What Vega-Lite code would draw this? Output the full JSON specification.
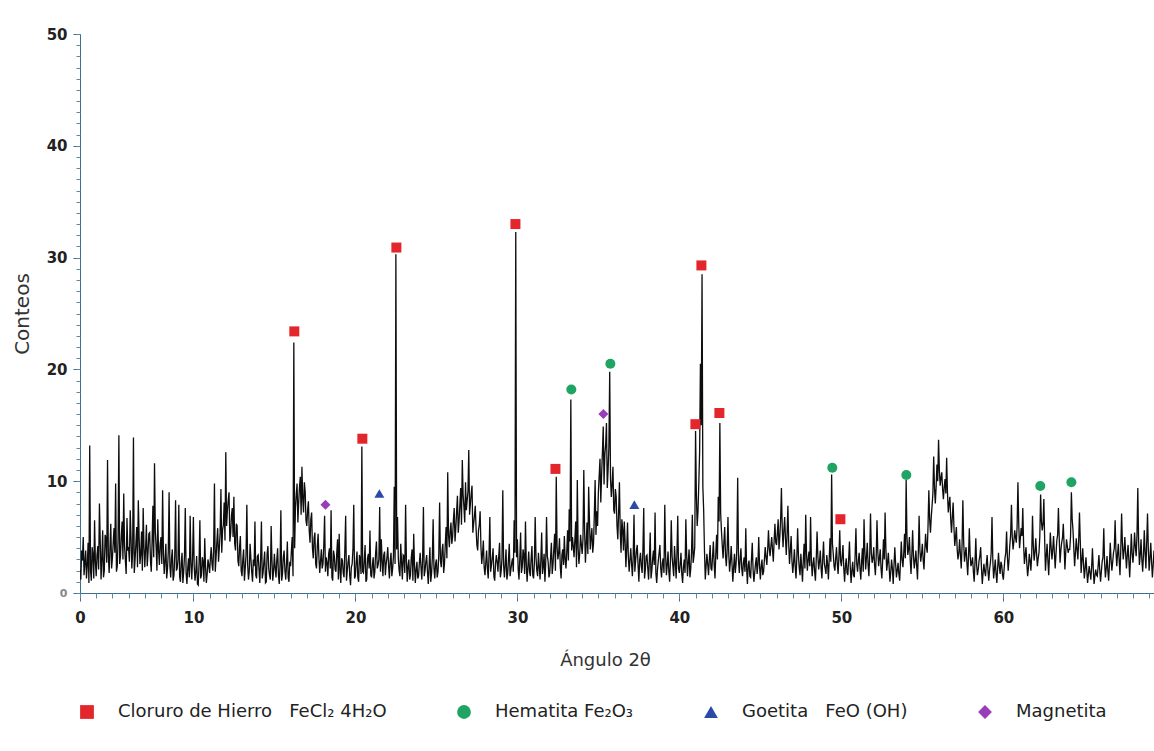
{
"$schema":"https://vega.github.io/schema/vega-lite/v6.json",
"width":1074,"height":559,
"autosize":"none",
"padding":{"left":80,"top":34,"right":0,"bottom":158},
"background":"white",
"config":{"view":{"stroke":null},"font":"DejaVu Sans"},
"datasets":{
"peaks":[
{"angle":16.23,"counts":23.4,"phase":"Cloruro de Hierro\u00a0\u00a0\u00a0FeCl₂ 4H₂O"},
{"angle":20.43,"counts":13.8,"phase":"Cloruro de Hierro\u00a0\u00a0\u00a0FeCl₂ 4H₂O"},
{"angle":22.53,"counts":30.9,"phase":"Cloruro de Hierro\u00a0\u00a0\u00a0FeCl₂ 4H₂O"},
{"angle":29.88,"counts":33.0,"phase":"Cloruro de Hierro\u00a0\u00a0\u00a0FeCl₂ 4H₂O"},
{"angle":32.35,"counts":11.1,"phase":"Cloruro de Hierro\u00a0\u00a0\u00a0FeCl₂ 4H₂O"},
{"angle":40.99,"counts":15.1,"phase":"Cloruro de Hierro\u00a0\u00a0\u00a0FeCl₂ 4H₂O"},
{"angle":41.36,"counts":29.3,"phase":"Cloruro de Hierro\u00a0\u00a0\u00a0FeCl₂ 4H₂O"},
{"angle":42.47,"counts":16.1,"phase":"Cloruro de Hierro\u00a0\u00a0\u00a0FeCl₂ 4H₂O"},
{"angle":49.94,"counts":6.6,"phase":"Cloruro de Hierro\u00a0\u00a0\u00a0FeCl₂ 4H₂O"},
{"angle":33.33,"counts":18.2,"phase":"Hematita Fe₂O₃"},
{"angle":35.74,"counts":20.5,"phase":"Hematita Fe₂O₃"},
{"angle":49.44,"counts":11.2,"phase":"Hematita Fe₂O₃"},
{"angle":54.01,"counts":10.55,"phase":"Hematita Fe₂O₃"},
{"angle":62.28,"counts":9.57,"phase":"Hematita Fe₂O₃"},
{"angle":64.2,"counts":9.9,"phase":"Hematita Fe₂O₃"},
{"angle":21.48,"counts":8.9,"phase":"Goetita\u00a0\u00a0\u00a0FeO (OH)"},
{"angle":37.22,"counts":7.9,"phase":"Goetita\u00a0\u00a0\u00a0FeO (OH)"},
{"angle":18.15,"counts":7.9,"phase":"Magnetita"},
{"angle":35.31,"counts":16.0,"phase":"Magnetita"}
],
"pattern":[
{"angle":3.0,"counts":2.1},{"angle":3.1,"counts":3.8},{"angle":3.2,"counts":5.0},{"angle":3.3,"counts":2.7},{"angle":3.4,"counts":1.3},{"angle":3.5,"counts":4.5},{"angle":3.6,"counts":13.2},{"angle":3.7,"counts":1.1},{"angle":3.8,"counts":3.4},{"angle":3.9,"counts":6.5},
{"angle":4.0,"counts":1.5},{"angle":4.1,"counts":4.2},{"angle":4.2,"counts":8.0},{"angle":4.3,"counts":1.2},{"angle":4.4,"counts":5.6},{"angle":4.5,"counts":2.0},{"angle":4.6,"counts":4.9},{"angle":4.7,"counts":11.9},{"angle":4.8,"counts":1.8},{"angle":4.9,"counts":6.2},
{"angle":5.0,"counts":3.1},{"angle":5.1,"counts":5.8},{"angle":5.2,"counts":9.8},{"angle":5.3,"counts":2.4},{"angle":5.4,"counts":14.1},{"angle":5.5,"counts":3.3},{"angle":5.6,"counts":6.4},{"angle":5.7,"counts":8.9},{"angle":5.8,"counts":2.9},{"angle":5.9,"counts":6.7},
{"angle":6.0,"counts":4.0},{"angle":6.1,"counts":7.4},{"angle":6.2,"counts":2.2},{"angle":6.3,"counts":13.9},{"angle":6.4,"counts":3.0},{"angle":6.5,"counts":5.9},{"angle":6.6,"counts":8.3},{"angle":6.7,"counts":2.6},{"angle":6.8,"counts":5.5},{"angle":6.9,"counts":7.6},
{"angle":7.0,"counts":2.3},{"angle":7.1,"counts":6.1},{"angle":7.2,"counts":3.6},{"angle":7.3,"counts":5.4},{"angle":7.4,"counts":1.9},{"angle":7.5,"counts":7.8},{"angle":7.6,"counts":11.6},{"angle":7.7,"counts":4.1},{"angle":7.8,"counts":6.6},{"angle":7.9,"counts":2.5},
{"angle":8.0,"counts":5.0},{"angle":8.1,"counts":9.2},{"angle":8.2,"counts":1.7},{"angle":8.3,"counts":4.4},{"angle":8.4,"counts":2.1},{"angle":8.5,"counts":9.0},{"angle":8.6,"counts":1.4},{"angle":8.7,"counts":3.9},{"angle":8.8,"counts":1.6},{"angle":8.9,"counts":8.3},
{"angle":9.0,"counts":2.2},{"angle":9.1,"counts":7.9},{"angle":9.2,"counts":1.0},{"angle":9.3,"counts":3.6},{"angle":9.4,"counts":1.9},{"angle":9.5,"counts":7.6},{"angle":9.6,"counts":0.8},{"angle":9.7,"counts":3.1},{"angle":9.8,"counts":6.9},{"angle":9.9,"counts":1.2},
{"angle":10.0,"counts":6.8},{"angle":10.1,"counts":1.1},{"angle":10.2,"counts":3.3},{"angle":10.3,"counts":0.7},{"angle":10.4,"counts":6.5},{"angle":10.5,"counts":1.6},{"angle":10.6,"counts":2.8},{"angle":10.7,"counts":4.9},{"angle":10.8,"counts":0.9},{"angle":10.9,"counts":3.0},
{"angle":11.0,"counts":1.8},{"angle":11.1,"counts":4.1},{"angle":11.2,"counts":2.0},{"angle":11.3,"counts":9.8},{"angle":11.4,"counts":3.2},{"angle":11.5,"counts":5.8},{"angle":11.6,"counts":4.0},{"angle":11.7,"counts":9.3},{"angle":11.8,"counts":5.6},{"angle":11.9,"counts":8.1},
{"angle":12.0,"counts":12.6},{"angle":12.1,"counts":7.4},{"angle":12.2,"counts":9.0},{"angle":12.3,"counts":5.3},{"angle":12.4,"counts":7.6},{"angle":12.5,"counts":8.6},{"angle":12.6,"counts":3.8},{"angle":12.7,"counts":6.0},{"angle":12.8,"counts":2.4},{"angle":12.9,"counts":5.1},
{"angle":13.0,"counts":1.5},{"angle":13.1,"counts":3.9},{"angle":13.2,"counts":2.2},{"angle":13.3,"counts":7.9},{"angle":13.4,"counts":1.2},{"angle":13.5,"counts":4.4},{"angle":13.6,"counts":1.9},{"angle":13.7,"counts":3.0},{"angle":13.8,"counts":6.4},{"angle":13.9,"counts":1.3},
{"angle":14.0,"counts":3.4},{"angle":14.1,"counts":0.9},{"angle":14.2,"counts":6.4},{"angle":14.3,"counts":1.8},{"angle":14.4,"counts":3.7},{"angle":14.5,"counts":1.0},{"angle":14.6,"counts":4.2},{"angle":14.7,"counts":1.6},{"angle":14.8,"counts":6.0},{"angle":14.9,"counts":1.1},
{"angle":15.0,"counts":3.5},{"angle":15.1,"counts":1.4},{"angle":15.2,"counts":4.0},{"angle":15.3,"counts":0.8},{"angle":15.4,"counts":7.4},{"angle":15.5,"counts":1.7},{"angle":15.6,"counts":3.8},{"angle":15.7,"counts":1.2},{"angle":15.8,"counts":4.6},{"angle":15.9,"counts":1.0},
{"angle":16.0,"counts":2.4},{"angle":16.1,"counts":5.0},{"angle":16.2,"counts":22.4},{"angle":16.3,"counts":7.6},{"angle":16.4,"counts":9.8},{"angle":16.5,"counts":8.1},{"angle":16.6,"counts":10.4},{"angle":16.7,"counts":11.3},{"angle":16.8,"counts":7.2},{"angle":16.9,"counts":9.1},
{"angle":17.0,"counts":6.0},{"angle":17.1,"counts":8.2},{"angle":17.2,"counts":4.5},{"angle":17.3,"counts":7.2},{"angle":17.4,"counts":3.1},{"angle":17.5,"counts":5.4},{"angle":17.6,"counts":2.2},{"angle":17.7,"counts":5.3},{"angle":17.8,"counts":1.8},{"angle":17.9,"counts":3.9},
{"angle":18.0,"counts":2.6},{"angle":18.1,"counts":6.9},{"angle":18.2,"counts":3.2},{"angle":18.3,"counts":1.5},{"angle":18.4,"counts":4.0},{"angle":18.5,"counts":7.4},{"angle":18.6,"counts":1.1},{"angle":18.7,"counts":3.3},{"angle":18.8,"counts":1.9},{"angle":18.9,"counts":4.8},
{"angle":19.0,"counts":5.3},{"angle":19.1,"counts":0.9},{"angle":19.2,"counts":2.9},{"angle":19.3,"counts":1.4},{"angle":19.4,"counts":6.9},{"angle":19.5,"counts":2.0},{"angle":19.6,"counts":3.4},{"angle":19.7,"counts":0.7},{"angle":19.8,"counts":2.6},{"angle":19.9,"counts":7.9},
{"angle":20.0,"counts":1.5},{"angle":20.1,"counts":3.7},{"angle":20.2,"counts":1.0},{"angle":20.3,"counts":3.0},{"angle":20.4,"counts":13.1},{"angle":20.5,"counts":1.8},{"angle":20.6,"counts":4.3},{"angle":20.7,"counts":1.2},{"angle":20.8,"counts":3.5},{"angle":20.9,"counts":5.6},
{"angle":21.0,"counts":1.4},{"angle":21.1,"counts":3.2},{"angle":21.2,"counts":1.9},{"angle":21.3,"counts":4.6},{"angle":21.4,"counts":2.5},{"angle":21.5,"counts":7.7},{"angle":21.6,"counts":4.8},{"angle":21.7,"counts":1.5},{"angle":21.8,"counts":3.7},{"angle":21.9,"counts":2.6},
{"angle":22.0,"counts":4.1},{"angle":22.1,"counts":1.3},{"angle":22.2,"counts":3.6},{"angle":22.3,"counts":2.2},{"angle":22.4,"counts":9.5},{"angle":22.5,"counts":30.3},{"angle":22.6,"counts":6.8},{"angle":22.7,"counts":2.0},{"angle":22.8,"counts":4.4},{"angle":22.9,"counts":1.2},
{"angle":23.0,"counts":3.3},{"angle":23.1,"counts":7.9},{"angle":23.2,"counts":1.0},{"angle":23.3,"counts":3.0},{"angle":23.4,"counts":1.6},{"angle":23.5,"counts":3.9},{"angle":23.6,"counts":5.3},{"angle":23.7,"counts":0.9},{"angle":23.8,"counts":2.8},{"angle":23.9,"counts":1.5},
{"angle":24.0,"counts":3.6},{"angle":24.1,"counts":1.2},{"angle":24.2,"counts":7.7},{"angle":24.3,"counts":2.0},{"angle":24.4,"counts":3.4},{"angle":24.5,"counts":0.8},{"angle":24.6,"counts":4.1},{"angle":24.7,"counts":1.7},{"angle":24.8,"counts":6.6},{"angle":24.9,"counts":1.3},
{"angle":25.0,"counts":3.0},{"angle":25.1,"counts":1.9},{"angle":25.2,"counts":8.1},{"angle":25.3,"counts":2.3},{"angle":25.4,"counts":4.4},{"angle":25.5,"counts":2.6},{"angle":25.6,"counts":5.9},{"angle":25.7,"counts":10.8},{"angle":25.8,"counts":4.1},{"angle":25.9,"counts":6.3},
{"angle":26.0,"counts":5.0},{"angle":26.1,"counts":7.6},{"angle":26.2,"counts":5.8},{"angle":26.3,"counts":8.7},{"angle":26.4,"counts":6.4},{"angle":26.5,"counts":9.4},{"angle":26.6,"counts":11.9},{"angle":26.7,"counts":7.7},{"angle":26.8,"counts":9.9},{"angle":26.9,"counts":8.3},
{"angle":27.0,"counts":12.8},{"angle":27.1,"counts":8.0},{"angle":27.2,"counts":9.6},{"angle":27.3,"counts":6.2},{"angle":27.4,"counts":7.8},{"angle":27.5,"counts":4.3},{"angle":27.6,"counts":5.6},{"angle":27.7,"counts":7.3},{"angle":27.8,"counts":2.6},{"angle":27.9,"counts":4.7},
{"angle":28.0,"counts":1.6},{"angle":28.1,"counts":3.8},{"angle":28.2,"counts":1.3},{"angle":28.3,"counts":6.8},{"angle":28.4,"counts":2.5},{"angle":28.5,"counts":4.0},{"angle":28.6,"counts":1.1},{"angle":28.7,"counts":3.4},{"angle":28.8,"counts":1.9},{"angle":28.9,"counts":4.5},
{"angle":29.0,"counts":2.0},{"angle":29.1,"counts":9.2},{"angle":29.2,"counts":1.4},{"angle":29.3,"counts":3.9},{"angle":29.4,"counts":1.7},{"angle":29.5,"counts":4.4},{"angle":29.6,"counts":2.1},{"angle":29.7,"counts":3.1},{"angle":29.8,"counts":6.5},{"angle":29.9,"counts":32.3},
{"angle":30.0,"counts":4.8},{"angle":30.1,"counts":1.2},{"angle":30.2,"counts":5.4},{"angle":30.3,"counts":2.3},{"angle":30.4,"counts":3.4},{"angle":30.5,"counts":6.4},{"angle":30.6,"counts":1.0},{"angle":30.7,"counts":3.7},{"angle":30.8,"counts":1.5},{"angle":30.9,"counts":4.2},
{"angle":31.0,"counts":1.3},{"angle":31.1,"counts":6.8},{"angle":31.2,"counts":2.0},{"angle":31.3,"counts":3.6},{"angle":31.4,"counts":1.2},{"angle":31.5,"counts":5.4},{"angle":31.6,"counts":2.4},{"angle":31.7,"counts":1.0},{"angle":31.8,"counts":6.8},{"angle":31.9,"counts":2.8},
{"angle":32.0,"counts":1.8},{"angle":32.1,"counts":4.5},{"angle":32.2,"counts":2.6},{"angle":32.3,"counts":5.3},{"angle":32.4,"counts":10.4},{"angle":32.5,"counts":3.0},{"angle":32.6,"counts":4.9},{"angle":32.7,"counts":1.3},{"angle":32.8,"counts":3.9},{"angle":32.9,"counts":5.1},
{"angle":33.0,"counts":2.2},{"angle":33.1,"counts":5.6},{"angle":33.2,"counts":7.5},{"angle":33.3,"counts":17.3},{"angle":33.4,"counts":5.0},{"angle":33.5,"counts":3.2},{"angle":33.6,"counts":6.4},{"angle":33.7,"counts":10.1},{"angle":33.8,"counts":2.6},{"angle":33.9,"counts":5.2},
{"angle":34.0,"counts":3.5},{"angle":34.1,"counts":11.0},{"angle":34.2,"counts":2.7},{"angle":34.3,"counts":6.3},{"angle":34.4,"counts":9.5},{"angle":34.5,"counts":3.9},{"angle":34.6,"counts":5.8},{"angle":34.7,"counts":4.4},{"angle":34.8,"counts":10.1},{"angle":34.9,"counts":7.3},
{"angle":35.0,"counts":9.0},{"angle":35.1,"counts":12.0},{"angle":35.2,"counts":10.6},{"angle":35.3,"counts":14.9},{"angle":35.4,"counts":12.4},{"angle":35.5,"counts":15.2},{"angle":35.6,"counts":11.0},{"angle":35.7,"counts":19.8},{"angle":35.8,"counts":8.6},{"angle":35.9,"counts":11.3},
{"angle":36.0,"counts":7.1},{"angle":36.1,"counts":8.6},{"angle":36.2,"counts":4.8},{"angle":36.3,"counts":9.9},{"angle":36.4,"counts":3.6},{"angle":36.5,"counts":5.7},{"angle":36.6,"counts":6.4},{"angle":36.7,"counts":2.3},{"angle":36.8,"counts":6.3},{"angle":36.9,"counts":1.9},
{"angle":37.0,"counts":4.0},{"angle":37.1,"counts":1.5},{"angle":37.2,"counts":7.0},{"angle":37.3,"counts":2.9},{"angle":37.4,"counts":4.3},{"angle":37.5,"counts":1.0},{"angle":37.6,"counts":3.6},{"angle":37.7,"counts":1.8},{"angle":37.8,"counts":7.6},{"angle":37.9,"counts":2.1},
{"angle":38.0,"counts":3.4},{"angle":38.1,"counts":1.2},{"angle":38.2,"counts":5.4},{"angle":38.3,"counts":2.0},{"angle":38.4,"counts":3.8},{"angle":38.5,"counts":7.2},{"angle":38.6,"counts":0.9},{"angle":38.7,"counts":2.9},{"angle":38.8,"counts":4.3},{"angle":38.9,"counts":1.4},
{"angle":39.0,"counts":3.1},{"angle":39.1,"counts":7.9},{"angle":39.2,"counts":1.6},{"angle":39.3,"counts":3.7},{"angle":39.4,"counts":1.0},{"angle":39.5,"counts":6.5},{"angle":39.6,"counts":2.4},{"angle":39.7,"counts":4.2},{"angle":39.8,"counts":1.3},{"angle":39.9,"counts":6.9},
{"angle":40.0,"counts":1.8},{"angle":40.1,"counts":3.6},{"angle":40.2,"counts":0.9},{"angle":40.3,"counts":3.0},{"angle":40.4,"counts":6.6},{"angle":40.5,"counts":1.5},{"angle":40.6,"counts":3.9},{"angle":40.7,"counts":2.1},{"angle":40.8,"counts":7.0},{"angle":40.9,"counts":3.3},
{"angle":41.0,"counts":14.5},{"angle":41.1,"counts":6.0},{"angle":41.2,"counts":9.8},{"angle":41.3,"counts":20.5},{"angle":41.4,"counts":28.5},{"angle":41.5,"counts":7.4},{"angle":41.6,"counts":1.2},{"angle":41.7,"counts":3.5},{"angle":41.8,"counts":1.6},{"angle":41.9,"counts":4.3},
{"angle":42.0,"counts":2.0},{"angle":42.1,"counts":4.6},{"angle":42.2,"counts":1.3},{"angle":42.3,"counts":5.2},{"angle":42.4,"counts":8.6},{"angle":42.5,"counts":15.2},{"angle":42.6,"counts":5.5},{"angle":42.7,"counts":3.1},{"angle":42.8,"counts":5.9},{"angle":42.9,"counts":2.4},
{"angle":43.0,"counts":6.8},{"angle":43.1,"counts":1.9},{"angle":43.2,"counts":4.2},{"angle":43.3,"counts":1.0},{"angle":43.4,"counts":3.5},{"angle":43.5,"counts":2.6},{"angle":43.6,"counts":10.3},{"angle":43.7,"counts":1.8},{"angle":43.8,"counts":4.0},{"angle":43.9,"counts":1.5},
{"angle":44.0,"counts":3.2},{"angle":44.1,"counts":5.8},{"angle":44.2,"counts":0.8},{"angle":44.3,"counts":2.9},{"angle":44.4,"counts":1.4},{"angle":44.5,"counts":4.5},{"angle":44.6,"counts":1.0},{"angle":44.7,"counts":2.6},{"angle":44.8,"counts":1.7},{"angle":44.9,"counts":5.0},
{"angle":45.0,"counts":1.2},{"angle":45.1,"counts":3.0},{"angle":45.2,"counts":1.9},{"angle":45.3,"counts":4.1},{"angle":45.4,"counts":2.5},{"angle":45.5,"counts":5.6},{"angle":45.6,"counts":3.3},{"angle":45.7,"counts":5.0},{"angle":45.8,"counts":2.8},{"angle":45.9,"counts":6.2},
{"angle":46.0,"counts":4.3},{"angle":46.1,"counts":6.6},{"angle":46.2,"counts":5.0},{"angle":46.3,"counts":9.4},{"angle":46.4,"counts":4.1},{"angle":46.5,"counts":6.8},{"angle":46.6,"counts":3.4},{"angle":46.7,"counts":7.8},{"angle":46.8,"counts":2.6},{"angle":46.9,"counts":5.1},
{"angle":47.0,"counts":1.8},{"angle":47.1,"counts":3.9},{"angle":47.2,"counts":1.3},{"angle":47.3,"counts":5.8},{"angle":47.4,"counts":2.2},{"angle":47.5,"counts":3.5},{"angle":47.6,"counts":1.0},{"angle":47.7,"counts":4.4},{"angle":47.8,"counts":7.0},{"angle":47.9,"counts":2.0},
{"angle":48.0,"counts":3.7},{"angle":48.1,"counts":6.8},{"angle":48.2,"counts":1.5},{"angle":48.3,"counts":3.2},{"angle":48.4,"counts":1.1},{"angle":48.5,"counts":5.5},{"angle":48.6,"counts":2.1},{"angle":48.7,"counts":3.8},{"angle":48.8,"counts":1.3},{"angle":48.9,"counts":4.6},
{"angle":49.0,"counts":2.2},{"angle":49.1,"counts":3.4},{"angle":49.2,"counts":1.2},{"angle":49.3,"counts":4.9},{"angle":49.4,"counts":10.6},{"angle":49.5,"counts":3.5},{"angle":49.6,"counts":2.0},{"angle":49.7,"counts":4.1},{"angle":49.8,"counts":1.7},{"angle":49.9,"counts":5.6},
{"angle":50.0,"counts":2.4},{"angle":50.1,"counts":4.3},{"angle":50.2,"counts":1.0},{"angle":50.3,"counts":3.1},{"angle":50.4,"counts":1.6},{"angle":50.5,"counts":4.6},{"angle":50.6,"counts":0.9},{"angle":50.7,"counts":2.8},{"angle":50.8,"counts":1.4},{"angle":50.9,"counts":5.8},
{"angle":51.0,"counts":1.9},{"angle":51.1,"counts":3.6},{"angle":51.2,"counts":1.2},{"angle":51.3,"counts":4.0},{"angle":51.4,"counts":6.6},{"angle":51.5,"counts":2.1},{"angle":51.6,"counts":4.5},{"angle":51.7,"counts":1.5},{"angle":51.8,"counts":7.1},{"angle":51.9,"counts":2.7},
{"angle":52.0,"counts":4.1},{"angle":52.1,"counts":1.6},{"angle":52.2,"counts":6.5},{"angle":52.3,"counts":2.4},{"angle":52.4,"counts":3.9},{"angle":52.5,"counts":1.3},{"angle":52.6,"counts":4.8},{"angle":52.7,"counts":7.2},{"angle":52.8,"counts":2.0},{"angle":52.9,"counts":3.6},
{"angle":53.0,"counts":1.0},{"angle":53.1,"counts":3.0},{"angle":53.2,"counts":0.8},{"angle":53.3,"counts":4.1},{"angle":53.4,"counts":1.4},{"angle":53.5,"counts":2.7},{"angle":53.6,"counts":1.1},{"angle":53.7,"counts":4.6},{"angle":53.8,"counts":2.3},{"angle":53.9,"counts":5.3},
{"angle":54.0,"counts":10.1},{"angle":54.1,"counts":3.4},{"angle":54.2,"counts":5.0},{"angle":54.3,"counts":1.7},{"angle":54.4,"counts":5.6},{"angle":54.5,"counts":2.2},{"angle":54.6,"counts":3.8},{"angle":54.7,"counts":1.2},{"angle":54.8,"counts":6.9},{"angle":54.9,"counts":2.8},
{"angle":55.0,"counts":4.4},{"angle":55.1,"counts":2.1},{"angle":55.2,"counts":5.3},{"angle":55.3,"counts":3.6},{"angle":55.4,"counts":9.2},{"angle":55.5,"counts":5.4},{"angle":55.6,"counts":7.8},{"angle":55.7,"counts":12.2},{"angle":55.8,"counts":8.0},{"angle":55.9,"counts":11.5},
{"angle":56.0,"counts":13.7},{"angle":56.1,"counts":9.6},{"angle":56.2,"counts":10.8},{"angle":56.3,"counts":8.4},{"angle":56.4,"counts":10.2},{"angle":56.5,"counts":12.1},{"angle":56.6,"counts":7.2},{"angle":56.7,"counts":8.6},{"angle":56.8,"counts":5.4},{"angle":56.9,"counts":8.1},
{"angle":57.0,"counts":4.2},{"angle":57.1,"counts":5.9},{"angle":57.2,"counts":3.0},{"angle":57.3,"counts":4.8},{"angle":57.4,"counts":2.2},{"angle":57.5,"counts":8.3},{"angle":57.6,"counts":2.8},{"angle":57.7,"counts":4.1},{"angle":57.8,"counts":1.6},{"angle":57.9,"counts":5.8},
{"angle":58.0,"counts":2.4},{"angle":58.1,"counts":3.2},{"angle":58.2,"counts":1.0},{"angle":58.3,"counts":4.9},{"angle":58.4,"counts":1.6},{"angle":58.5,"counts":2.9},{"angle":58.6,"counts":4.1},{"angle":58.7,"counts":0.8},{"angle":58.8,"counts":2.6},{"angle":58.9,"counts":1.5},
{"angle":59.0,"counts":3.4},{"angle":59.1,"counts":1.1},{"angle":59.2,"counts":2.7},{"angle":59.3,"counts":6.8},{"angle":59.4,"counts":1.3},{"angle":59.5,"counts":3.0},{"angle":59.6,"counts":0.9},{"angle":59.7,"counts":3.6},{"angle":59.8,"counts":1.7},{"angle":59.9,"counts":2.5},
{"angle":60.0,"counts":1.2},{"angle":60.1,"counts":3.1},{"angle":60.2,"counts":5.5},{"angle":60.3,"counts":2.0},{"angle":60.4,"counts":4.3},{"angle":60.5,"counts":7.9},{"angle":60.6,"counts":3.9},{"angle":60.7,"counts":5.6},{"angle":60.8,"counts":4.5},{"angle":60.9,"counts":9.9},
{"angle":61.0,"counts":4.0},{"angle":61.1,"counts":5.8},{"angle":61.2,"counts":7.6},{"angle":61.3,"counts":2.6},{"angle":61.4,"counts":4.1},{"angle":61.5,"counts":1.5},{"angle":61.6,"counts":3.5},{"angle":61.7,"counts":2.0},{"angle":61.8,"counts":6.9},{"angle":61.9,"counts":2.9},
{"angle":62.0,"counts":4.9},{"angle":62.1,"counts":2.4},{"angle":62.2,"counts":3.6},{"angle":62.3,"counts":8.8},{"angle":62.4,"counts":5.6},{"angle":62.5,"counts":8.4},{"angle":62.6,"counts":2.0},{"angle":62.7,"counts":4.4},{"angle":62.8,"counts":1.6},{"angle":62.9,"counts":5.4},
{"angle":63.0,"counts":3.0},{"angle":63.1,"counts":5.1},{"angle":63.2,"counts":2.2},{"angle":63.3,"counts":4.7},{"angle":63.4,"counts":7.6},{"angle":63.5,"counts":2.7},{"angle":63.6,"counts":4.5},{"angle":63.7,"counts":6.2},{"angle":63.8,"counts":2.1},{"angle":63.9,"counts":4.8},
{"angle":64.0,"counts":3.6},{"angle":64.1,"counts":3.9},{"angle":64.2,"counts":9.0},{"angle":64.3,"counts":5.6},{"angle":64.4,"counts":2.4},{"angle":64.5,"counts":4.9},{"angle":64.6,"counts":3.0},{"angle":64.7,"counts":7.2},{"angle":64.8,"counts":1.8},{"angle":64.9,"counts":4.0},
{"angle":65.0,"counts":1.3},{"angle":65.1,"counts":3.2},{"angle":65.2,"counts":0.9},{"angle":65.3,"counts":2.4},{"angle":65.4,"counts":1.2},{"angle":65.5,"counts":4.0},{"angle":65.6,"counts":0.8},{"angle":65.7,"counts":2.1},{"angle":65.8,"counts":1.5},{"angle":65.9,"counts":3.4},
{"angle":66.0,"counts":1.0},{"angle":66.1,"counts":2.8},{"angle":66.2,"counts":5.8},{"angle":66.3,"counts":1.4},{"angle":66.4,"counts":3.3},{"angle":66.5,"counts":1.1},{"angle":66.6,"counts":4.5},{"angle":66.7,"counts":2.0},{"angle":66.8,"counts":3.6},{"angle":66.9,"counts":6.5},
{"angle":67.0,"counts":2.4},{"angle":67.1,"counts":4.4},{"angle":67.2,"counts":1.6},{"angle":67.3,"counts":7.1},{"angle":67.4,"counts":3.0},{"angle":67.5,"counts":5.0},{"angle":67.6,"counts":2.2},{"angle":67.7,"counts":4.3},{"angle":67.8,"counts":1.4},{"angle":67.9,"counts":5.3},
{"angle":68.0,"counts":2.7},{"angle":68.1,"counts":5.4},{"angle":68.2,"counts":3.3},{"angle":68.3,"counts":9.4},{"angle":68.4,"counts":2.5},{"angle":68.5,"counts":4.8},{"angle":68.6,"counts":1.9},{"angle":68.7,"counts":5.6},{"angle":68.8,"counts":2.2},{"angle":68.9,"counts":7.1},
{"angle":69.0,"counts":2.0},{"angle":69.1,"counts":4.5},{"angle":69.2,"counts":1.4},{"angle":69.3,"counts":3.8},
{"angle":3.05,"counts":1.2},{"angle":3.15,"counts":2.9},{"angle":3.25,"counts":1.6},{"angle":3.35,"counts":3.8},{"angle":3.45,"counts":2.5},{"angle":3.55,"counts":0.9},{"angle":3.65,"counts":2.0},{"angle":3.75,"counts":4.1},{"angle":3.85,"counts":1.3},{"angle":3.95,"counts":2.8},
{"angle":4.05,"counts":3.4},{"angle":4.15,"counts":2.1},{"angle":4.25,"counts":4.6},{"angle":4.35,"counts":3.0},{"angle":4.45,"counts":1.4},{"angle":4.55,"counts":5.2},{"angle":4.65,"counts":2.7},{"angle":4.75,"counts":3.3},{"angle":4.85,"counts":4.0},{"angle":4.95,"counts":2.2},
{"angle":5.05,"counts":4.5},{"angle":5.15,"counts":3.6},{"angle":5.25,"counts":1.9},{"angle":5.35,"counts":4.8},{"angle":5.45,"counts":2.6},{"angle":5.55,"counts":5.1},{"angle":5.65,"counts":3.0},{"angle":5.75,"counts":4.2},{"angle":5.85,"counts":1.7},{"angle":5.95,"counts":3.9},
{"angle":6.05,"counts":2.8},{"angle":6.15,"counts":4.9},{"angle":6.25,"counts":3.7},{"angle":6.35,"counts":1.8},{"angle":6.45,"counts":4.4},{"angle":6.55,"counts":2.3},{"angle":6.65,"counts":5.0},{"angle":6.75,"counts":3.5},{"angle":6.85,"counts":2.0},{"angle":6.95,"counts":4.1},
{"angle":7.05,"counts":4.0},{"angle":7.15,"counts":2.4},{"angle":7.25,"counts":5.3},{"angle":7.35,"counts":2.9},{"angle":7.45,"counts":4.6},{"angle":7.55,"counts":3.2},{"angle":7.65,"counts":5.5},{"angle":7.75,"counts":2.0},{"angle":7.85,"counts":3.8},{"angle":7.95,"counts":4.4},
{"angle":8.05,"counts":2.6},{"angle":8.15,"counts":3.5},{"angle":8.25,"counts":2.9},{"angle":8.35,"counts":1.3},{"angle":8.45,"counts":3.7},{"angle":8.55,"counts":2.4},{"angle":8.65,"counts":3.1},{"angle":8.75,"counts":1.1},{"angle":8.85,"counts":3.4},{"angle":8.95,"counts":2.0},
{"angle":9.05,"counts":3.0},{"angle":9.15,"counts":1.5},{"angle":9.25,"counts":2.7},{"angle":9.35,"counts":0.9},{"angle":9.45,"counts":3.3},{"angle":9.55,"counts":1.8},{"angle":9.65,"counts":2.2},{"angle":9.75,"counts":1.4},{"angle":9.85,"counts":2.6},{"angle":9.95,"counts":3.1},
{"angle":10.05,"counts":2.4},{"angle":10.15,"counts":1.9},{"angle":10.25,"counts":0.8},{"angle":10.35,"counts":2.7},{"angle":10.45,"counts":1.3},{"angle":10.55,"counts":3.2},{"angle":10.65,"counts":1.0},{"angle":10.75,"counts":2.3},{"angle":10.85,"counts":1.7},{"angle":10.95,"counts":2.5},
{"angle":11.05,"counts":3.1},{"angle":11.15,"counts":2.6},{"angle":11.25,"counts":4.0},{"angle":11.35,"counts":1.9},{"angle":11.45,"counts":4.6},{"angle":11.55,"counts":2.8},{"angle":11.65,"counts":5.4},{"angle":11.75,"counts":3.6},{"angle":11.85,"counts":6.1},{"angle":11.95,"counts":4.7},
{"angle":12.05,"counts":6.0},{"angle":12.15,"counts":8.3},{"angle":12.25,"counts":4.6},{"angle":12.35,"counts":6.9},{"angle":12.45,"counts":5.0},{"angle":12.55,"counts":4.4},{"angle":12.65,"counts":6.2},{"angle":12.75,"counts":2.9},{"angle":12.85,"counts":4.1},{"angle":12.95,"counts":2.0},
{"angle":13.05,"counts":3.0},{"angle":13.15,"counts":1.1},{"angle":13.25,"counts":3.4},{"angle":13.35,"counts":2.5},{"angle":13.45,"counts":2.0},{"angle":13.55,"counts":3.1},{"angle":13.65,"counts":1.0},{"angle":13.75,"counts":2.4},{"angle":13.85,"counts":1.6},{"angle":13.95,"counts":3.3},
{"angle":14.05,"counts":2.1},{"angle":14.15,"counts":3.0},{"angle":14.25,"counts":1.3},{"angle":14.35,"counts":2.8},{"angle":14.45,"counts":0.9},{"angle":14.55,"counts":3.5},{"angle":14.65,"counts":2.2},{"angle":14.75,"counts":1.2},{"angle":14.85,"counts":2.9},{"angle":14.95,"counts":2.0},
{"angle":15.05,"counts":2.2},{"angle":15.15,"counts":3.0},{"angle":15.25,"counts":1.6},{"angle":15.35,"counts":2.5},{"angle":15.45,"counts":1.1},{"angle":15.55,"counts":3.2},{"angle":15.65,"counts":2.0},{"angle":15.75,"counts":2.6},{"angle":15.85,"counts":1.4},{"angle":15.95,"counts":2.8},
{"angle":16.05,"counts":3.8},{"angle":16.15,"counts":1.5},{"angle":16.25,"counts":4.0},{"angle":16.35,"counts":8.8},{"angle":16.45,"counts":6.3},{"angle":16.55,"counts":9.5},{"angle":16.65,"counts":7.0},{"angle":16.75,"counts":8.4},{"angle":16.85,"counts":9.9},{"angle":16.95,"counts":6.5},
{"angle":17.05,"counts":7.4},{"angle":17.15,"counts":5.6},{"angle":17.25,"counts":6.6},{"angle":17.35,"counts":4.0},{"angle":17.45,"counts":4.9},{"angle":17.55,"counts":2.6},{"angle":17.65,"counts":4.2},{"angle":17.75,"counts":3.1},{"angle":17.85,"counts":2.9},{"angle":17.95,"counts":2.2},
{"angle":18.05,"counts":4.3},{"angle":18.15,"counts":1.9},{"angle":18.25,"counts":2.7},{"angle":18.35,"counts":3.5},{"angle":18.45,"counts":2.2},{"angle":18.55,"counts":1.4},{"angle":18.65,"counts":3.8},{"angle":18.75,"counts":2.1},{"angle":18.85,"counts":3.6},{"angle":18.95,"counts":1.2},
{"angle":19.05,"counts":2.0},{"angle":19.15,"counts":3.1},{"angle":19.25,"counts":1.8},{"angle":19.35,"counts":3.9},{"angle":19.45,"counts":1.1},{"angle":19.55,"counts":2.8},{"angle":19.65,"counts":1.6},{"angle":19.75,"counts":2.3},{"angle":19.85,"counts":3.9},{"angle":19.95,"counts":1.3},
{"angle":20.05,"counts":2.8},{"angle":20.15,"counts":1.4},{"angle":20.25,"counts":3.4},{"angle":20.35,"counts":1.7},{"angle":20.45,"counts":1.9},{"angle":20.55,"counts":2.9},{"angle":20.65,"counts":1.0},{"angle":20.75,"counts":3.1},{"angle":20.85,"counts":2.2},{"angle":20.95,"counts":1.6},
{"angle":21.05,"counts":2.5},{"angle":21.15,"counts":1.3},{"angle":21.25,"counts":3.6},{"angle":21.35,"counts":2.2},{"angle":21.45,"counts":3.0},{"angle":21.55,"counts":1.9},{"angle":21.65,"counts":2.9},{"angle":21.75,"counts":3.4},{"angle":21.85,"counts":1.6},{"angle":21.95,"counts":3.2},
{"angle":22.05,"counts":2.4},{"angle":22.15,"counts":2.9},{"angle":22.25,"counts":1.5},{"angle":22.35,"counts":3.3},{"angle":22.45,"counts":2.6},{"angle":22.55,"counts":3.9},{"angle":22.65,"counts":3.1},{"angle":22.75,"counts":1.5},{"angle":22.85,"counts":2.8},{"angle":22.95,"counts":3.4},
{"angle":23.05,"counts":1.8},{"angle":23.15,"counts":2.9},{"angle":23.25,"counts":2.4},{"angle":23.35,"counts":1.2},{"angle":23.45,"counts":3.2},{"angle":23.55,"counts":1.1},{"angle":23.65,"counts":2.5},{"angle":23.75,"counts":2.1},{"angle":23.85,"counts":1.3},{"angle":23.95,"counts":2.7},
{"angle":24.05,"counts":2.3},{"angle":24.15,"counts":3.0},{"angle":24.25,"counts":1.5},{"angle":24.35,"counts":2.8},{"angle":24.45,"counts":1.9},{"angle":24.55,"counts":2.4},{"angle":24.65,"counts":1.0},{"angle":24.75,"counts":3.1},{"angle":24.85,"counts":2.2},{"angle":24.95,"counts":2.6},
{"angle":25.05,"counts":1.4},{"angle":25.15,"counts":3.5},{"angle":25.25,"counts":2.9},{"angle":25.35,"counts":3.8},{"angle":25.45,"counts":1.8},{"angle":25.55,"counts":4.4},{"angle":25.65,"counts":3.1},{"angle":25.75,"counts":5.2},{"angle":25.85,"counts":5.5},{"angle":25.95,"counts":4.4},
{"angle":26.05,"counts":6.5},{"angle":26.15,"counts":4.6},{"angle":26.25,"counts":7.3},{"angle":26.35,"counts":5.4},{"angle":26.45,"counts":7.9},{"angle":26.55,"counts":6.1},{"angle":26.65,"counts":8.8},{"angle":26.75,"counts":6.3},{"angle":26.85,"counts":7.4},{"angle":26.95,"counts":9.1},
{"angle":27.05,"counts":7.0},{"angle":27.15,"counts":8.9},{"angle":27.25,"counts":5.4},{"angle":27.35,"counts":6.9},{"angle":27.45,"counts":5.8},{"angle":27.55,"counts":3.8},{"angle":27.65,"counts":6.1},{"angle":27.75,"counts":4.2},{"angle":27.85,"counts":3.5},{"angle":27.95,"counts":2.3},
{"angle":28.05,"counts":2.7},{"angle":28.15,"counts":2.2},{"angle":28.25,"counts":3.4},{"angle":28.35,"counts":1.9},{"angle":28.45,"counts":3.2},{"angle":28.55,"counts":1.5},{"angle":28.65,"counts":2.6},{"angle":28.75,"counts":2.8},{"angle":28.85,"counts":3.3},{"angle":28.95,"counts":1.4},
{"angle":29.05,"counts":3.1},{"angle":29.15,"counts":2.5},{"angle":29.25,"counts":2.6},{"angle":29.35,"counts":1.2},{"angle":29.45,"counts":3.0},{"angle":29.55,"counts":1.5},{"angle":29.65,"counts":2.7},{"angle":29.75,"counts":1.9},{"angle":29.85,"counts":3.6},{"angle":29.95,"counts":3.2},
{"angle":30.05,"counts":2.1},{"angle":30.15,"counts":3.1},{"angle":30.25,"counts":1.8},{"angle":30.35,"counts":3.9},{"angle":30.45,"counts":1.7},{"angle":30.55,"counts":2.6},{"angle":30.65,"counts":2.4},{"angle":30.75,"counts":1.9},{"angle":30.85,"counts":3.1},{"angle":30.95,"counts":1.6},
{"angle":31.05,"counts":2.7},{"angle":31.15,"counts":3.2},{"angle":31.25,"counts":1.5},{"angle":31.35,"counts":2.4},{"angle":31.45,"counts":3.0},{"angle":31.55,"counts":1.7},{"angle":31.65,"counts":3.5},{"angle":31.75,"counts":2.7},{"angle":31.85,"counts":3.3},{"angle":31.95,"counts":1.4},
{"angle":32.05,"counts":3.2},{"angle":32.15,"counts":1.7},{"angle":32.25,"counts":3.9},{"angle":32.35,"counts":2.0},{"angle":32.45,"counts":4.1},{"angle":32.55,"counts":3.6},{"angle":32.65,"counts":2.3},{"angle":32.75,"counts":3.4},{"angle":32.85,"counts":2.5},{"angle":32.95,"counts":3.0},
{"angle":33.05,"counts":3.7},{"angle":33.15,"counts":2.9},{"angle":33.25,"counts":4.6},{"angle":33.35,"counts":3.8},{"angle":33.45,"counts":4.2},{"angle":33.55,"counts":4.8},{"angle":33.65,"counts":2.3},{"angle":33.75,"counts":4.0},{"angle":33.85,"counts":3.6},{"angle":33.95,"counts":4.3},
{"angle":34.05,"counts":4.8},{"angle":34.15,"counts":5.6},{"angle":34.25,"counts":4.4},{"angle":34.35,"counts":3.5},{"angle":34.45,"counts":6.5},{"angle":34.55,"counts":4.9},{"angle":34.65,"counts":3.6},{"angle":34.75,"counts":7.0},{"angle":34.85,"counts":5.2},{"angle":34.95,"counts":6.0},
{"angle":35.05,"counts":10.5},{"angle":35.15,"counts":8.1},{"angle":35.25,"counts":12.6},{"angle":35.35,"counts":9.7},{"angle":35.45,"counts":13.3},{"angle":35.55,"counts":9.4},{"angle":35.65,"counts":13.1},{"angle":35.75,"counts":10.2},{"angle":35.85,"counts":9.8},{"angle":35.95,"counts":7.4},
{"angle":36.05,"counts":9.3},{"angle":36.15,"counts":6.0},{"angle":36.25,"counts":7.2},{"angle":36.35,"counts":5.5},{"angle":36.45,"counts":6.6},{"angle":36.55,"counts":3.8},{"angle":36.65,"counts":4.6},{"angle":36.75,"counts":4.0},{"angle":36.85,"counts":3.2},{"angle":36.95,"counts":3.0},
{"angle":37.05,"counts":2.6},{"angle":37.15,"counts":3.3},{"angle":37.25,"counts":1.9},{"angle":37.35,"counts":3.8},{"angle":37.45,"counts":2.5},{"angle":37.55,"counts":3.0},{"angle":37.65,"counts":2.4},{"angle":37.75,"counts":3.9},{"angle":37.85,"counts":1.3},{"angle":37.95,"counts":3.3},
{"angle":38.05,"counts":2.2},{"angle":38.15,"counts":3.0},{"angle":38.25,"counts":1.3},{"angle":38.35,"counts":3.1},{"angle":38.45,"counts":2.5},{"angle":38.55,"counts":1.8},{"angle":38.65,"counts":2.1},{"angle":38.75,"counts":3.6},{"angle":38.85,"counts":2.2},{"angle":38.95,"counts":2.7},
{"angle":39.05,"counts":1.8},{"angle":39.15,"counts":3.4},{"angle":39.25,"counts":2.5},{"angle":39.35,"counts":1.9},{"angle":39.45,"counts":2.9},{"angle":39.55,"counts":3.3},{"angle":39.65,"counts":1.5},{"angle":39.75,"counts":2.8},{"angle":39.85,"counts":3.5},{"angle":39.95,"counts":2.2},
{"angle":40.05,"counts":2.6},{"angle":40.15,"counts":1.7},{"angle":40.25,"counts":2.3},{"angle":40.35,"counts":1.8},{"angle":40.45,"counts":3.4},{"angle":40.55,"counts":2.8},{"angle":40.65,"counts":1.4},{"angle":40.75,"counts":3.6},{"angle":40.85,"counts":2.7},{"angle":40.95,"counts":4.1},
{"angle":41.05,"counts":8.8},{"angle":41.15,"counts":7.3},{"angle":41.25,"counts":12.6},{"angle":41.35,"counts":15.0},{"angle":41.45,"counts":9.5},{"angle":41.55,"counts":3.8},{"angle":41.65,"counts":2.4},{"angle":41.75,"counts":2.6},{"angle":41.85,"counts":3.0},{"angle":41.95,"counts":2.2},
{"angle":42.05,"counts":3.3},{"angle":42.15,"counts":2.5},{"angle":42.25,"counts":3.6},{"angle":42.35,"counts":3.0},{"angle":42.45,"counts":6.4},{"angle":42.55,"counts":7.1},{"angle":42.65,"counts":4.2},{"angle":42.75,"counts":4.6},{"angle":42.85,"counts":3.3},{"angle":42.95,"counts":3.9},
{"angle":43.05,"counts":3.5},{"angle":43.15,"counts":2.8},{"angle":43.25,"counts":2.6},{"angle":43.35,"counts":2.3},{"angle":43.45,"counts":1.8},{"angle":43.55,"counts":4.0},{"angle":43.65,"counts":2.9},{"angle":43.75,"counts":3.1},{"angle":43.85,"counts":2.2},{"angle":43.95,"counts":2.7},
{"angle":44.05,"counts":1.9},{"angle":44.15,"counts":2.3},{"angle":44.25,"counts":2.5},{"angle":44.35,"counts":1.5},{"angle":44.45,"counts":3.0},{"angle":44.55,"counts":2.1},{"angle":44.65,"counts":1.8},{"angle":44.75,"counts":3.2},{"angle":44.85,"counts":2.6},{"angle":44.95,"counts":2.4},
{"angle":45.05,"counts":2.4},{"angle":45.15,"counts":1.6},{"angle":45.25,"counts":3.0},{"angle":45.35,"counts":3.2},{"angle":45.45,"counts":3.8},{"angle":45.55,"counts":4.0},{"angle":45.65,"counts":4.2},{"angle":45.75,"counts":3.9},{"angle":45.85,"counts":4.7},{"angle":45.95,"counts":4.5},
{"angle":46.05,"counts":5.4},{"angle":46.15,"counts":3.9},{"angle":46.25,"counts":6.5},{"angle":46.35,"counts":5.8},{"angle":46.45,"counts":5.6},{"angle":46.55,"counts":4.9},{"angle":46.65,"counts":5.3},{"angle":46.75,"counts":4.4},{"angle":46.85,"counts":3.8},{"angle":46.95,"counts":2.9},
{"angle":47.05,"counts":2.7},{"angle":47.15,"counts":2.4},{"angle":47.25,"counts":3.1},{"angle":47.35,"counts":3.4},{"angle":47.45,"counts":1.6},{"angle":47.55,"counts":2.3},{"angle":47.65,"counts":2.9},{"angle":47.75,"counts":2.2},{"angle":47.85,"counts":3.5},{"angle":47.95,"counts":3.0},
{"angle":48.05,"counts":2.4},{"angle":48.15,"counts":2.9},{"angle":48.25,"counts":2.6},{"angle":48.35,"counts":1.9},{"angle":48.45,"counts":3.0},{"angle":48.55,"counts":3.3},{"angle":48.65,"counts":2.8},{"angle":48.75,"counts":2.2},{"angle":48.85,"counts":3.1},{"angle":48.95,"counts":2.6},
{"angle":49.05,"counts":1.7},{"angle":49.15,"counts":2.6},{"angle":49.25,"counts":3.0},{"angle":49.35,"counts":2.8},{"angle":49.45,"counts":4.4},{"angle":49.55,"counts":2.4},{"angle":49.65,"counts":3.1},{"angle":49.75,"counts":2.6},{"angle":49.85,"counts":3.3},{"angle":49.95,"counts":2.9},
{"angle":50.05,"counts":3.3},{"angle":50.15,"counts":2.2},{"angle":50.25,"counts":2.4},{"angle":50.35,"counts":1.8},{"angle":50.45,"counts":3.0},{"angle":50.55,"counts":2.3},{"angle":50.65,"counts":2.0},{"angle":50.75,"counts":1.6},{"angle":50.85,"counts":3.4},{"angle":50.95,"counts":2.6},
{"angle":51.05,"counts":2.9},{"angle":51.15,"counts":2.2},{"angle":51.25,"counts":2.8},{"angle":51.35,"counts":1.9},{"angle":51.45,"counts":3.8},{"angle":51.55,"counts":3.2},{"angle":51.65,"counts":2.5},{"angle":51.75,"counts":3.4},{"angle":51.85,"counts":3.6},{"angle":51.95,"counts":3.1},
{"angle":52.05,"counts":2.5},{"angle":52.15,"counts":3.2},{"angle":52.25,"counts":3.7},{"angle":52.35,"counts":3.1},{"angle":52.45,"counts":2.2},{"angle":52.55,"counts":2.9},{"angle":52.65,"counts":3.0},{"angle":52.75,"counts":3.9},{"angle":52.85,"counts":2.7},{"angle":52.95,"counts":2.3},
{"angle":53.05,"counts":1.9},{"angle":53.15,"counts":2.2},{"angle":53.25,"counts":2.5},{"angle":53.35,"counts":2.6},{"angle":53.45,"counts":2.0},{"angle":53.55,"counts":1.7},{"angle":53.65,"counts":2.8},{"angle":53.75,"counts":3.0},{"angle":53.85,"counts":3.5},{"angle":53.95,"counts":3.1},
{"angle":54.05,"counts":5.0},{"angle":54.15,"counts":3.9},{"angle":54.25,"counts":3.0},{"angle":54.35,"counts":3.4},{"angle":54.45,"counts":3.3},{"angle":54.55,"counts":2.9},{"angle":54.65,"counts":2.4},{"angle":54.75,"counts":3.6},{"angle":54.85,"counts":3.8},{"angle":54.95,"counts":3.5},
{"angle":55.05,"counts":3.0},{"angle":55.15,"counts":3.8},{"angle":55.25,"counts":4.1},{"angle":55.35,"counts":6.0},{"angle":55.45,"counts":6.6},{"angle":55.55,"counts":6.8},{"angle":55.65,"counts":8.9},{"angle":55.75,"counts":9.4},{"angle":55.85,"counts":9.5},{"angle":55.95,"counts":10.0},
{"angle":56.05,"counts":11.0},{"angle":56.15,"counts":10.3},{"angle":56.25,"counts":9.3},{"angle":56.35,"counts":9.5},{"angle":56.45,"counts":8.9},{"angle":56.55,"counts":9.0},{"angle":56.65,"counts":8.0},{"angle":56.75,"counts":6.6},{"angle":56.85,"counts":6.8},{"angle":56.95,"counts":5.9},
{"angle":57.05,"counts":5.0},{"angle":57.15,"counts":3.9},{"angle":57.25,"counts":3.6},{"angle":57.35,"counts":3.4},{"angle":57.45,"counts":4.2},{"angle":57.55,"counts":4.6},{"angle":57.65,"counts":3.5},{"angle":57.75,"counts":2.7},{"angle":57.85,"counts":3.3},{"angle":57.95,"counts":3.4},
{"angle":58.05,"counts":2.7},{"angle":58.15,"counts":1.9},{"angle":58.25,"counts":2.8},{"angle":58.35,"counts":2.5},{"angle":58.45,"counts":2.1},{"angle":58.55,"counts":3.3},{"angle":58.65,"counts":2.2},{"angle":58.75,"counts":1.8},{"angle":58.85,"counts":1.9},{"angle":58.95,"counts":2.6},
{"angle":59.05,"counts":2.0},{"angle":59.15,"counts":2.1},{"angle":59.25,"counts":3.6},{"angle":59.35,"counts":2.9},{"angle":59.45,"counts":2.1},{"angle":59.55,"counts":1.7},{"angle":59.65,"counts":2.3},{"angle":59.75,"counts":2.4},{"angle":59.85,"counts":2.8},{"angle":59.95,"counts":1.6},
{"angle":60.05,"counts":2.2},{"angle":60.15,"counts":3.6},{"angle":60.25,"counts":3.2},{"angle":60.35,"counts":3.0},{"angle":60.45,"counts":5.2},{"angle":60.55,"counts":5.0},{"angle":60.65,"counts":4.6},{"angle":60.75,"counts":5.0},{"angle":60.85,"counts":6.0},{"angle":60.95,"counts":6.2},
{"angle":61.05,"counts":4.9},{"angle":61.15,"counts":5.1},{"angle":61.25,"counts":4.4},{"angle":61.35,"counts":3.4},{"angle":61.45,"counts":2.6},{"angle":61.55,"counts":2.3},{"angle":61.65,"counts":2.9},{"angle":61.75,"counts":3.4},{"angle":61.85,"counts":4.2},{"angle":61.95,"counts":3.6},
{"angle":62.05,"counts":3.6},{"angle":62.15,"counts":3.1},{"angle":62.25,"counts":5.0},{"angle":62.35,"counts":6.4},{"angle":62.45,"counts":6.2},{"angle":62.55,"counts":4.8},{"angle":62.65,"counts":3.3},{"angle":62.75,"counts":2.9},{"angle":62.85,"counts":3.5},{"angle":62.95,"counts":4.1},
{"angle":63.05,"counts":3.9},{"angle":63.15,"counts":3.6},{"angle":63.25,"counts":3.5},{"angle":63.35,"counts":5.2},{"angle":63.45,"counts":4.9},{"angle":63.55,"counts":3.8},{"angle":63.65,"counts":4.9},{"angle":63.75,"counts":4.3},{"angle":63.85,"counts":3.6},{"angle":63.95,"counts":4.2},
{"angle":64.05,"counts":3.9},{"angle":64.15,"counts":5.1},{"angle":64.25,"counts":6.6},{"angle":64.35,"counts":4.0},{"angle":64.45,"counts":3.6},{"angle":64.55,"counts":3.9},{"angle":64.65,"counts":4.7},{"angle":64.75,"counts":4.6},{"angle":64.85,"counts":2.9},{"angle":64.95,"counts":2.6},
{"angle":65.05,"counts":2.2},{"angle":65.15,"counts":2.0},{"angle":65.25,"counts":1.7},{"angle":65.35,"counts":1.8},{"angle":65.45,"counts":2.3},{"angle":65.55,"counts":2.2},{"angle":65.65,"counts":1.5},{"angle":65.75,"counts":1.6},{"angle":65.85,"counts":2.4},{"angle":65.95,"counts":2.1},
{"angle":66.05,"counts":1.9},{"angle":66.15,"counts":3.2},{"angle":66.25,"counts":2.7},{"angle":66.35,"counts":2.2},{"angle":66.45,"counts":2.0},{"angle":66.55,"counts":2.6},{"angle":66.65,"counts":3.0},{"angle":66.75,"counts":2.8},{"angle":66.85,"counts":4.0},{"angle":66.95,"counts":3.8},
{"angle":67.05,"counts":3.5},{"angle":67.15,"counts":2.9},{"angle":67.25,"counts":3.9},{"angle":67.35,"counts":4.4},{"angle":67.45,"counts":3.8},{"angle":67.55,"counts":3.5},{"angle":67.65,"counts":3.4},{"angle":67.75,"counts":2.9},{"angle":67.85,"counts":3.2},{"angle":67.95,"counts":3.6},
{"angle":68.05,"counts":3.8},{"angle":68.15,"counts":4.1},{"angle":68.25,"counts":5.2},{"angle":68.35,"counts":4.6},{"angle":68.45,"counts":3.4},{"angle":68.55,"counts":3.0},{"angle":68.65,"counts":3.4},{"angle":68.75,"counts":3.6},{"angle":68.85,"counts":4.5},{"angle":68.95,"counts":3.9},
{"angle":69.05,"counts":3.1},{"angle":69.15,"counts":2.8},{"angle":69.25,"counts":2.5}
]
},
"layer":[
{
"data":{"name":"pattern"},
"mark":{"type":"line","color":"#0d0d0d","strokeWidth":1.3,"clip":true},
"encoding":{
"x":{"field":"angle","type":"quantitative","sort":"ascending","scale":{"domain":[3,69.3],"nice":false,"zero":false},
"axis":{"values":[3,10,20,30,40,50,60],"labelExpr":"datum.value==3?'0':datum.label","title":"Ángulo 2θ","grid":false,"domainColor":"#3d6e8c","tickColor":"#3d6e8c","tickSize":8,"labelFont":"DejaVu Sans","labelFontSize":15,"labelFontWeight":"bold","labelColor":"#222","labelPadding":9,"labelFlush":false,"labelOverlap":false,"titleFont":"DejaVu Sans","titleFontSize":18,"titleFontWeight":"normal","titleColor":"#333","titlePadding":26,"titleX":525}},
"y":{"field":"counts","type":"quantitative","scale":{"domain":[0,50],"nice":false},
"axis":{"values":[0,10,20,30,40,50],"title":"Conteos","grid":false,"domainColor":"#3d6e8c","tickColor":"#3d6e8c","tickSize":7,"labelFont":"DejaVu Sans","labelFontSize":{"condition":{"test":"datum.value==0","value":11},"value":15},"labelColor":{"condition":{"test":"datum.value==0","value":"#888"},"value":"#222"},"labelFontWeight":"bold","labelPadding":6,"titleFont":"DejaVu Sans","titleFontSize":20,"titleFontWeight":"normal","titleColor":"#333","titlePadding":14}}
}
},
{
"data":{"name":"peaks"},
"mark":{"type":"point","filled":true,"opacity":1,"size":100},
"encoding":{
"x":{"field":"angle","type":"quantitative","axis":{"orient":"bottom","values":[3,4,5,6,7,8,9,10,11,12,13,14,15,16,17,18,19,20,21,22,23,24,25,26,27,28,29,30,31,32,33,34,35,36,37,38,39,40,41,42,43,44,45,46,47,48,49,50,51,52,53,54,55,56,57,58,59,60,61,62,63,64,65,66,67,68,69],"labels":false,"title":null,"domain":false,"grid":false,"tickSize":5,"tickColor":"#5a8aa5"}},
"y":{"field":"counts","type":"quantitative","axis":{"orient":"left","values":[0,1,2,3,4,5,6,7,8,9,10,11,12,13,14,15,16,17,18,19,20,21,22,23,24,25,26,27,28,29,30,31,32,33,34,35,36,37,38,39,40,41,42,43,44,45,46,47,48,49,50],"labels":false,"title":null,"domain":false,"grid":false,"tickSize":4,"tickColor":"#5a8aa5"}},
"color":{"field":"phase","type":"nominal",
"scale":{"domain":["Cloruro de Hierro\u00a0\u00a0\u00a0FeCl₂ 4H₂O","Hematita Fe₂O₃","Goetita\u00a0\u00a0\u00a0FeO (OH)","Magnetita"],"range":["#e3262b","#1fa463","#2b4aa8","#9a3db8"]},
"legend":{"orient":"none","legendX":-2,"legendY":669,"direction":"horizontal","columns":4,"title":null,"labelFontSize":18,"labelColor":"#222","labelFont":"DejaVu Sans","symbolSize":190,"symbolStrokeWidth":0,"labelOffset":22,"columnPadding":68,"symbolOpacity":1,"labelLimit":400,"padding":0}},
"shape":{"field":"phase","type":"nominal",
"scale":{"domain":["Cloruro de Hierro\u00a0\u00a0\u00a0FeCl₂ 4H₂O","Hematita Fe₂O₃","Goetita\u00a0\u00a0\u00a0FeO (OH)","Magnetita"],"range":["square","circle","triangle-up","diamond"]}}
}
}
],
"resolve":{"axis":{"x":"independent","y":"independent"}}
}
